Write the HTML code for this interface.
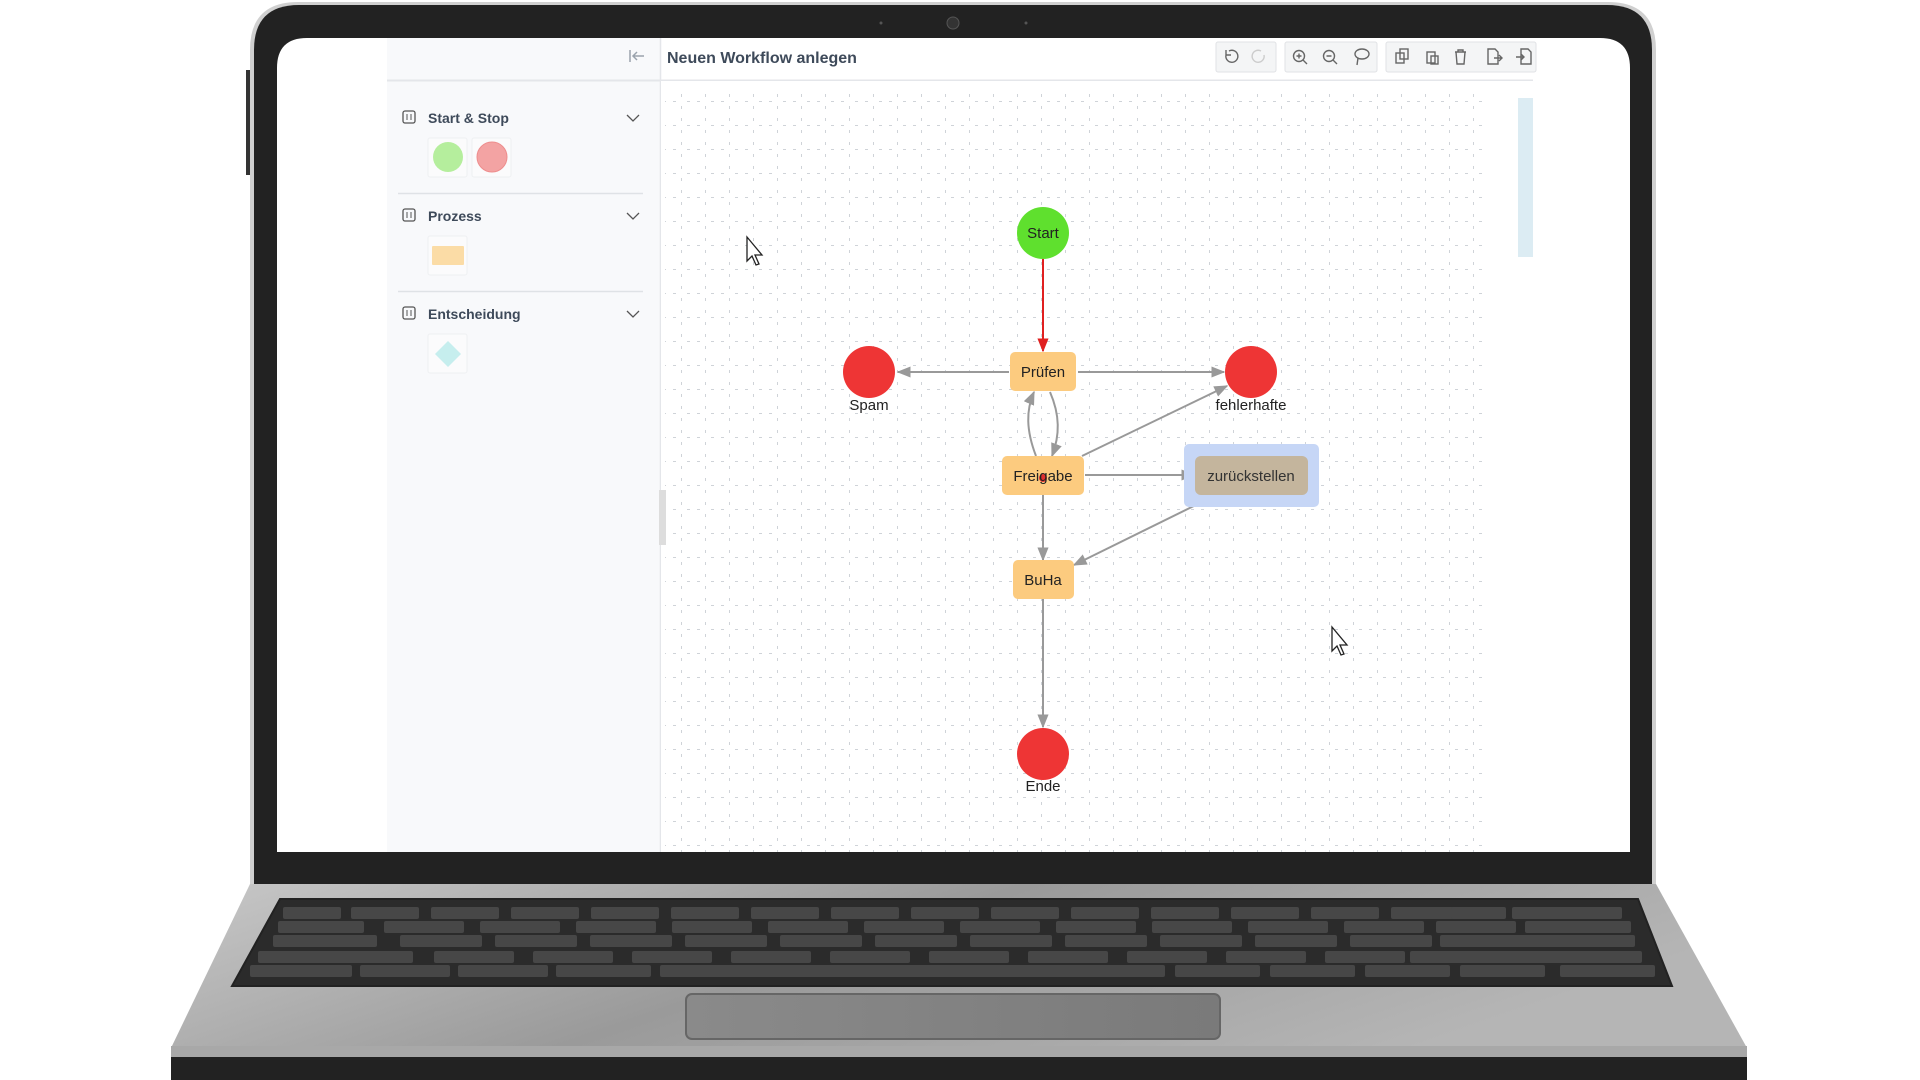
<!DOCTYPE html>
<html><head><meta charset="utf-8"><style>
html,body{margin:0;padding:0;width:1920px;height:1080px;overflow:hidden;background:#fff;font-family:"Liberation Sans",sans-serif}
svg{position:absolute;left:0;top:0}
</style></head><body>
<svg width="1920" height="1080" viewBox="0 0 1920 1080">
<defs>
<pattern id="grid" x="670" y="90" width="24" height="24" patternUnits="userSpaceOnUse">
<rect x="11" y="4" width="1" height="3" fill="#cfd3d8"/><rect x="11" y="16" width="1" height="3" fill="#cfd3d8"/>
<rect x="3" y="11" width="3" height="1" fill="#cfd3d8"/><rect x="17" y="11" width="3" height="1" fill="#cfd3d8"/>
</pattern>
<linearGradient id="base" x1="0" y1="0" x2="1" y2="0.3"><stop offset="0" stop-color="#c8c8c8"/><stop offset="0.5" stop-color="#9a9a9a"/><stop offset="1" stop-color="#b5b5b5"/></linearGradient>
<linearGradient id="pad" x1="0" y1="0" x2="1" y2="0"><stop offset="0" stop-color="#8a8a8a"/><stop offset="1" stop-color="#7a7a7a"/></linearGradient>
<marker id="ag" viewBox="0 0 10 10" refX="9" refY="5" markerWidth="7" markerHeight="7" orient="auto"><path d="M0,1 L10,5 L0,9 z" fill="#999"/></marker>
<marker id="ar" viewBox="0 0 10 10" refX="9" refY="5" markerWidth="7" markerHeight="7" orient="auto"><path d="M0,1 L10,5 L0,9 z" fill="#e02020"/></marker>
</defs>
<!-- base -->
<path d="M250,884 L1656,884 L1747,1048 L171,1048 Z" fill="url(#base)"/>
<rect x="171" y="1046" width="1576" height="11" fill="#a8a8a8"/>
<rect x="171" y="1057" width="1576" height="23" fill="#222"/>
<path d="M280,899 L1638,899 L1672,986 L232,986 Z" fill="#2b2b2b" stroke="#222" stroke-width="2"/>
<g fill="#474747">
<rect x="283" y="907" width="58" height="12" rx="2"/><rect x="1512" y="907" width="110" height="12" rx="2"/>
<rect x="278" y="921" width="86" height="12" rx="2"/><rect x="1525" y="921" width="106" height="12" rx="2"/>
<rect x="273" y="935" width="104" height="12" rx="2"/><rect x="1440" y="935" width="195" height="12" rx="2"/>
<rect x="258" y="951" width="155" height="12" rx="2"/><rect x="1410" y="951" width="232" height="12" rx="2"/>
<rect x="250" y="965" width="102" height="12" rx="2"/><rect x="660" y="965" width="505" height="12" rx="2"/><rect x="1175" y="965" width="85" height="12" rx="2"/><rect x="1270" y="965" width="85" height="12" rx="2"/><rect x="1365" y="965" width="85" height="12" rx="2"/><rect x="1460" y="965" width="85" height="12" rx="2"/><rect x="1560" y="965" width="95" height="12" rx="2"/>
<rect x="360" y="965" width="90" height="12" rx="2"/><rect x="458" y="965" width="90" height="12" rx="2"/><rect x="556" y="965" width="95" height="12" rx="2"/>
<rect x="351" y="907" width="68" height="12" rx="2"/><rect x="431" y="907" width="68" height="12" rx="2"/><rect x="511" y="907" width="68" height="12" rx="2"/><rect x="591" y="907" width="68" height="12" rx="2"/><rect x="671" y="907" width="68" height="12" rx="2"/><rect x="751" y="907" width="68" height="12" rx="2"/><rect x="831" y="907" width="68" height="12" rx="2"/><rect x="911" y="907" width="68" height="12" rx="2"/><rect x="991" y="907" width="68" height="12" rx="2"/><rect x="1071" y="907" width="68" height="12" rx="2"/><rect x="1151" y="907" width="68" height="12" rx="2"/><rect x="1231" y="907" width="68" height="12" rx="2"/><rect x="1311" y="907" width="68" height="12" rx="2"/><rect x="1391" y="907" width="68" height="12" rx="2"/><rect x="1451" y="907" width="55" height="12" rx="2"/>
<rect x="384" y="921" width="80" height="12" rx="2"/><rect x="480" y="921" width="80" height="12" rx="2"/><rect x="576" y="921" width="80" height="12" rx="2"/><rect x="672" y="921" width="80" height="12" rx="2"/><rect x="768" y="921" width="80" height="12" rx="2"/><rect x="864" y="921" width="80" height="12" rx="2"/><rect x="960" y="921" width="80" height="12" rx="2"/><rect x="1056" y="921" width="80" height="12" rx="2"/><rect x="1152" y="921" width="80" height="12" rx="2"/><rect x="1248" y="921" width="80" height="12" rx="2"/><rect x="1344" y="921" width="80" height="12" rx="2"/><rect x="1436" y="921" width="80" height="12" rx="2"/>
<rect x="400" y="935" width="82" height="12" rx="2"/><rect x="495" y="935" width="82" height="12" rx="2"/><rect x="590" y="935" width="82" height="12" rx="2"/><rect x="685" y="935" width="82" height="12" rx="2"/><rect x="780" y="935" width="82" height="12" rx="2"/><rect x="875" y="935" width="82" height="12" rx="2"/><rect x="970" y="935" width="82" height="12" rx="2"/><rect x="1065" y="935" width="82" height="12" rx="2"/><rect x="1160" y="935" width="82" height="12" rx="2"/><rect x="1255" y="935" width="82" height="12" rx="2"/><rect x="1350" y="935" width="82" height="12" rx="2"/>
<rect x="434" y="951" width="80" height="12" rx="2"/><rect x="533" y="951" width="80" height="12" rx="2"/><rect x="632" y="951" width="80" height="12" rx="2"/><rect x="731" y="951" width="80" height="12" rx="2"/><rect x="830" y="951" width="80" height="12" rx="2"/><rect x="929" y="951" width="80" height="12" rx="2"/><rect x="1028" y="951" width="80" height="12" rx="2"/><rect x="1127" y="951" width="80" height="12" rx="2"/><rect x="1226" y="951" width="80" height="12" rx="2"/><rect x="1325" y="951" width="80" height="12" rx="2"/>
</g>
<rect x="686" y="994" width="534" height="45" rx="6" fill="url(#pad)" stroke="#666" stroke-width="2"/>
<!-- lid -->
<path d="M250,884 L250,50 Q250,2 298,2 L1608,2 Q1656,2 1656,50 L1656,884 Z" fill="#d0d0d0"/>
<path d="M254,884 L254,50 Q254,5 299,5 L1607,5 Q1652,5 1652,50 L1652,884 Z" fill="#222"/>
<rect x="246" y="70" width="4" height="105" fill="#333"/>
<circle cx="953" cy="23" r="6" fill="#333" stroke="#555"/><circle cx="881" cy="23" r="1.5" fill="#555"/><circle cx="1026" cy="23" r="1.5" fill="#555"/>
<path d="M277,38 L1600,38 Q1630,38 1630,68 L1630,852 L277,852 L277,68 Q277,38 307,38 Z" fill="#fff"/>
<!-- sidebar -->
<rect x="387" y="38" width="273" height="814" fill="#f8f9fb"/>
<line x1="387" y1="80.5" x2="1533" y2="80.5" stroke="#e4e6ea" stroke-width="2"/>
<line x1="660.5" y1="38" x2="660.5" y2="852" stroke="#e4e6ea" stroke-width="1.5"/>
<rect x="661" y="81" width="872" height="771" fill="#fff"/>
<rect x="665" y="86" width="818" height="766" fill="url(#grid)"/>
<rect x="1518" y="98" width="15" height="159" fill="#dcecf3"/>
<rect x="659" y="490" width="7" height="55" fill="#ddd"/>
<!-- header -->
<path d="M630,50 v12 M644,56 h-11 M637,52 l-4,4 l4,4" stroke="#9aa3ad" stroke-width="1.5" fill="none"/>
<text x="667" y="63" font-size="16" font-weight="bold" fill="#3e4a5a">Neuen Workflow anlegen</text>
<g fill="#f4f5f6" stroke="#e0e2e5">
<rect x="1216" y="42" width="60" height="30" rx="2"/><rect x="1285" y="42" width="92" height="30" rx="2"/><rect x="1386" y="42" width="150" height="30" rx="2"/>
</g>
<g stroke="#666" stroke-width="1.4" fill="none">
<path d="M1226,55 a6,6 0 1 0 3,-4 M1226,50 v5 h5"/>
<path d="M1264,55 a6,6 0 1 1 -3,-4" stroke="#ccc"/>
<circle cx="1299" cy="56" r="5.5"/><path d="M1303,60 l4,4 M1296.5,56 h5 M1299,53.5 v5"/>
<circle cx="1329" cy="56" r="5.5"/><path d="M1333,60 l4,4 M1326.5,56 h5"/>
<ellipse cx="1362" cy="54" rx="7" ry="5"/><path d="M1358,58 l-1,7"/>
<rect x="1396" y="53" width="8" height="10"/><rect x="1400" y="49" width="8" height="10"/>
<rect x="1427" y="52" width="8" height="11"/><rect x="1431" y="56" width="7" height="8"/>
<path d="M1455,52 h11 M1458,52 v-2 h5 v2 M1456,52 l1,12 h7 l1,-12"/>
<path d="M1488,49 h7 l3,3 v12 h-10 z M1494,58 h8 M1499,55 l3,3 l-3,3"/>
<path d="M1521,49 h7 l3,3 v12 h-10 z M1516,57 h8 M1521,54 l3,3 l-3,3"/>
</g>
<!-- sidebar sections -->
<g font-size="14" font-weight="bold" fill="#3e4a5a">
<text x="428" y="123">Start &amp; Stop</text>
<text x="428" y="221">Prozess</text>
<text x="428" y="319">Entscheidung</text>
</g>
<g stroke="#555" stroke-width="1.3" fill="none">
<rect x="403" y="111" width="12" height="12" rx="2"/><rect x="403" y="209" width="12" height="12" rx="2"/><rect x="403" y="307" width="12" height="12" rx="2"/>
<path d="M407,114 v6 M411,114 v6 M407,210 v0 M407,212 v6 M411,212 v6 M407,310 v6 M411,310 v6" stroke-width="1"/>
<path d="M627,115 l6,6 l6,-6 M627,213 l6,6 l6,-6 M627,311 l6,6 l6,-6"/>
</g>
<line x1="398" y1="193.5" x2="643" y2="193.5" stroke="#dfe2e6" stroke-width="1.5"/>
<line x1="398" y1="291.5" x2="643" y2="291.5" stroke="#dfe2e6" stroke-width="1.5"/>
<g fill="#fbfbfc" stroke="#eef0f2"><rect x="428" y="138" width="39" height="39" rx="2"/><rect x="472" y="138" width="39" height="39" rx="2"/><rect x="428" y="236" width="39" height="39" rx="2"/><rect x="428" y="334" width="39" height="39" rx="2"/></g>
<circle cx="448" cy="157" r="15" fill="#b5ee9d"/>
<circle cx="492" cy="157" r="15" fill="#f3a3a3" stroke="#ee8d8d"/>
<rect x="432" y="246" width="32" height="19" rx="1" fill="#fbdca6"/>
<path d="M448,341 l13,13 l-13,13 l-13,-13 z" fill="#c6eeee"/>
<!-- edges -->
<g stroke="#999" stroke-width="2" fill="none" marker-end="url(#ag)">
<line x1="1009" y1="372" x2="898" y2="372"/>
<line x1="1078" y1="372" x2="1224" y2="372"/>
<path d="M1036,456 C1026,430 1026,410 1034,392"/>
<path d="M1050,392 C1060,415 1060,435 1052,456"/>
<line x1="1082" y1="456" x2="1227" y2="386"/>
<line x1="1085" y1="475" x2="1194" y2="475"/>
<line x1="1043" y1="495" x2="1043" y2="560"/>
<line x1="1210" y1="498" x2="1074" y2="565"/>
<line x1="1043" y1="599" x2="1043" y2="727"/>
</g>
<line x1="1043" y1="259" x2="1043" y2="351" stroke="#e02020" stroke-width="2" marker-end="url(#ar)"/>
<!-- nodes -->
<circle cx="1043" cy="233" r="26" fill="#5fe02e"/>
<circle cx="869" cy="372" r="26" fill="#ee3535"/>
<circle cx="1251" cy="372" r="26" fill="#ee3535"/>
<circle cx="1043" cy="754" r="26" fill="#ee3535"/>
<rect x="1184" y="444" width="135" height="63" rx="5" fill="#c6d6f6"/>
<rect x="1010" y="352" width="66" height="39" rx="5" fill="#fccb7f"/>
<rect x="1002" y="456" width="82" height="39" rx="5" fill="#fccb7f"/>
<rect x="1195" y="456" width="113" height="39" rx="6" fill="#c4b59d"/>
<rect x="1013" y="560" width="61" height="39" rx="5" fill="#fccb7f"/>
<circle cx="1043" cy="478" r="4" fill="#e03030"/>
<g font-size="15" fill="#222" text-anchor="middle">
<text x="1043" y="238">Start</text>
<text x="1043" y="377">Prüfen</text>
<text x="1043" y="481">Freigabe</text>
<text x="1251" y="481" fill="#333">zurückstellen</text>
<text x="1043" y="585">BuHa</text>
<text x="869" y="410">Spam</text>
<text x="1251" y="410">fehlerhafte</text>
<text x="1043" y="791">Ende</text>
</g>
<!-- cursors -->
<path d="M747,237 l0,24 l5,-5 l4,9 l3,-1 l-4,-9 l7,0 z" fill="#fff" stroke="#222" stroke-width="1.3"/>
<path d="M1332,627 l0,24 l5,-5 l4,9 l3,-1 l-4,-9 l7,0 z" fill="#fff" stroke="#222" stroke-width="1.3"/>
</svg>
</body></html>
